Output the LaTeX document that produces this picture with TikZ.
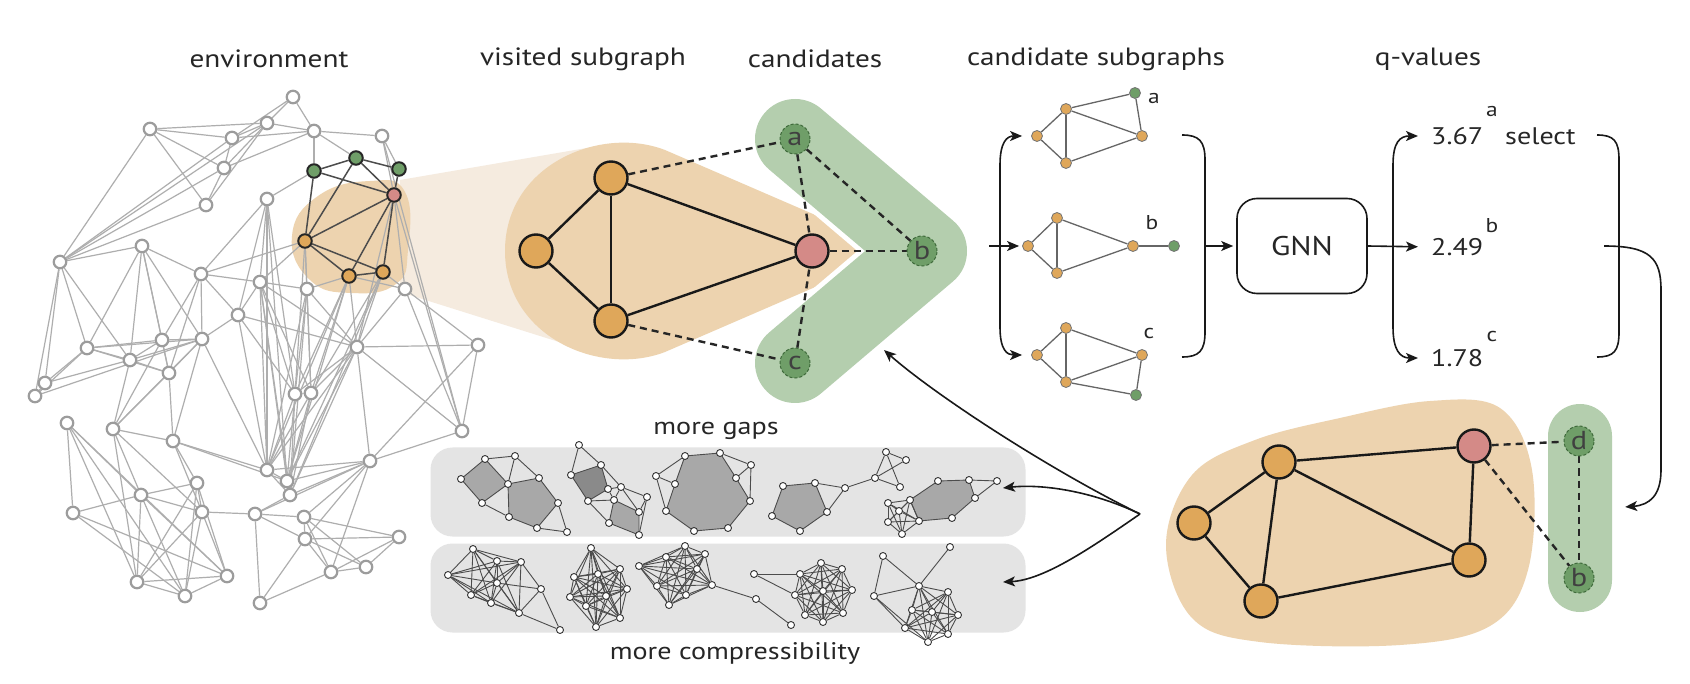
\documentclass[tikz,border=0pt]{standalone}
\usepackage{fontspec}
\setmainfont{PT Sans}[FakeStretch=1.17]
\usetikzlibrary{arrows.meta,calc}
\definecolor{orangeN}{HTML}{DFA75A}
\definecolor{pinkN}{HTML}{D48A87}
\definecolor{greenN}{HTML}{6F9E68}
\definecolor{greenD}{HTML}{3F6A3B}
\definecolor{beige}{HTML}{EDD3AF}
\definecolor{beigeL}{HTML}{F5EBDF}
\definecolor{greenB}{HTML}{B4CEAE}
\definecolor{boxG}{HTML}{E4E4E4}
\definecolor{polyG}{HTML}{A8A8A8}
\definecolor{polyD}{HTML}{8A8A8A}
\definecolor{envG}{HTML}{9C9C9C}
\definecolor{envL}{HTML}{AEAEAE}
\pgfdeclarelayer{back}
\pgfdeclarelayer{edges}
\pgfsetlayers{back,edges,main}
\newcommand{\ttlfont}{\fontsize{25}{30}\selectfont}
\newcommand{\qfont}{\fontsize{24}{28}\selectfont}
\newcommand{\supfont}{\fontsize{20}{24}\selectfont}
\begin{document}
\begin{tikzpicture}[x=1pt,y=-1pt,
  envn/.style={circle,draw=envG,fill=white,line width=2.2pt,minimum size=12.5pt,inner sep=0pt},
  envhl/.style={circle,draw=black!85,line width=2pt,minimum size=13.5pt,inner sep=0pt},
  envedge/.style={draw=envL,line width=1.2pt},
  hledge/.style={draw=black!70,line width=1.5pt},
  bign/.style={circle,draw=black!90,line width=2.4pt,minimum size=33pt,inner sep=0pt},
  cand/.style={circle,draw=greenD,dashed,dash pattern=on 3pt off 2pt,fill=greenN,line width=1pt,minimum size=30pt,inner sep=0pt,font=\fontsize{26}{26}\selectfont,text=black!75},
  solidE/.style={draw=black!90,line width=2.4pt},
  dashE/.style={draw=black!85,line width=2.4pt,dash pattern=on 7pt off 5pt},
  sn/.style={circle,draw=black!55,line width=0.8pt,minimum size=11pt,inner sep=0pt},
  se/.style={draw=black!60,line width=1.3pt},
  mn/.style={circle,draw=black!80,fill=white,line width=0.9pt,minimum size=7pt,inner sep=0pt},
  me/.style={draw=black!70,line width=0.9pt},
  arr/.style={-{Stealth[length=12pt,width=10pt,inset=3pt]},line width=1.6pt,draw=black!90},
  brk/.style={line width=1.6pt,draw=black!90},
  graybox/.style={fill=boxG,rounded corners=22pt,minimum width=595pt,minimum height=89pt,inner sep=0pt},
  ttl/.style={font=\ttlfont,text=black!85},
  qv/.style={font=\qfont,anchor=west,inner sep=0pt,text=black!85},
  sup/.style={font=\supfont,inner sep=0pt,text=black!85}
]
\useasboundingbox (0,0) rectangle (1690,684);

% titles
\node[ttl] (t1) at (269,59) {environment};
\node[ttl] (t2) at (583,59) {visited subgraph};
\node[ttl] (t3) at (815,59) {candidates};
\node[ttl] (t4) at (1096,59) {candidate subgraphs};
\node[ttl] (t5) at (1428,59) {q-values};

% ---------- backgrounds ----------
\begin{pgfonlayer}{back}
\fill[white] (0,0) rectangle (1690,684);
\fill[beigeL] (400,180) -- (610,144) -- (610,358) -- (400,292) -- cycle;
\fill[beige] plot[smooth cycle,tension=0.8] coordinates {(292,236) (318,196) (370,181) (405,192) (408,250) (396,284) (352,293) (310,280)};
\fill[beige] (868,251) .. controls (868,240) and (858,233) .. (843,227) -- (665,150) .. controls (600,125) and (505,165) .. (505,251) .. controls (505,337) and (600,377) .. (665,352) -- (843,275) .. controls (858,269) and (868,262) .. (868,251) -- cycle;
\draw[white,line width=90pt,line cap=round,line join=round] (795,139) -- (927,251) -- (795,363);
\draw[greenB,line width=80pt,line cap=round,line join=round] (795,139) -- (927,251) -- (795,363);
\fill[beige] plot[smooth cycle,tension=0.6] coordinates {(1166,545) (1192,475) (1255,440) (1340,418) (1430,401) (1500,408) (1532,470) (1528,570) (1490,626) (1400,645) (1260,642) (1192,618)};
\node[fill=greenB,rounded corners=32pt,minimum width=64pt,minimum height=208pt,inner sep=0pt] (gbar) at (1580,508) {};
\node[graybox] (boxA) at (728,492) {};
\node[graybox] (boxB) at (728,588) {};
\end{pgfonlayer}

% ---------- environment ----------
\foreach \n/\x/\y in {1/293/97,2/150/129,3/267/123,4/232/138,5/314/131,6/382/136,7/224/168,8/206/205,9/267/199,10/60/262,
 11/142/246,12/201/274,13/260/282,14/307/289,15/405/289,16/238/315,17/357/347,18/478/345,19/87/348,20/162/340,
 21/130/360,22/202/339,23/169/373,24/45/383,25/35/396,26/295/394,27/311/393,28/67/423,29/113/429,30/173/441,
 31/462/431,32/267/470,33/370/461,34/287/481,35/290/495,36/197/483,37/141/495,38/202/512,39/73/513,40/255/514,
 41/304/517,42/305/539,43/399/537,44/366/567,45/331/572,46/227/576,47/137/582,48/185/596,49/260/603}
  \node[envn] (e\n) at (\x,\y) {};
\foreach \n/\x/\y/\c in {50/314/171/greenN,51/356/158/greenN,52/399/169/greenN,53/394/195/pinkN,54/305/241/orangeN,55/349/276/orangeN,56/383/272/orangeN}
  \node[envhl,fill=\c] (e\n) at (\x,\y) {};
\begin{pgfonlayer}{edges}
\foreach \a/\b in {1/3,1/4,1/5,2/3,2/4,2/7,2/8,2/10,3/4,3/5,3/7,3/10,4/7,4/10,7/8,7/10,8/10,5/7,4/5,5/6,5/50,5/51,6/52,6/53,8/3,
 9/50,9/13,9/16,9/32,9/34,9/26,9/12,
 10/11,11/12,11/20,11/22,11/21,11/19,11/23,10/19,10/24,10/25,10/21,
 12/13,12/16,12/22,12/20,12/23,12/54,
 13/14,13/16,13/54,13/32,13/34,13/26,13/27,13/17,13/35,
 14/54,14/55,14/26,14/27,14/17,14/35,14/32,
 15/56,15/17,15/53,15/31,15/55,
 16/22,16/32,16/17,16/26,
 17/18,17/31,17/33,17/26,17/27,17/34,17/35,17/32,17/55,17/56,
 18/31,18/15,18/33,
 19/20,19/21,19/22,19/24,19/25,19/23,
 20/21,20/22,20/23,20/29,21/22,21/23,21/29,22/23,22/29,22/30,22/32,23/29,23/30,
 24/25,25/22,24/21,
 26/27,26/32,26/34,26/35,27/34,27/35,27/32,26/55,27/56,27/55,26/54,27/54,
 28/37,28/39,28/47,28/48,28/46,
 29/30,29/37,29/38,29/47,
 30/32,30/34,30/36,30/38,
 31/33,31/53,31/6,
 32/34,32/35,32/33,33/34,33/35,33/41,33/42,33/45,33/40,
 36/37,36/38,36/46,36/47,36/48,
 37/38,37/39,37/46,37/48,37/47,
 38/40,38/46,38/47,38/48,39/46,39/48,
 40/41,40/49,40/42,40/35,
 41/42,41/43,41/44,41/45,42/44,42/45,42/49,43/45,43/44,44/45,45/49,42/43,
 46/47,46/48,47/48,
 55/32,55/34,56/35,56/34,53/17}
  \draw[envedge] (e\a) -- (e\b);
\foreach \a/\b in {50/51,51/52,50/53,51/53,52/53,50/54,51/54,54/53,54/55,54/56,55/56,53/55,53/56}
  \draw[hledge] (e\a) -- (e\b);
\end{pgfonlayer}

% ---------- visited subgraph + candidates ----------
\node[bign,fill=orangeN] (v1) at (611,178) {};
\node[bign,fill=orangeN] (v2) at (536,251) {};
\node[bign,fill=orangeN] (v3) at (611,321) {};
\node[bign,fill=pinkN] (vp) at (812,251) {};
\node[cand] (ca) at (795,139) {a};
\node[cand] (cb) at (922,251) {b};
\node[cand] (cc) at (795,363) {c};
\begin{pgfonlayer}{edges}
\foreach \a/\b in {v1/v2,v2/v3,v1/v3,v1/vp,v3/vp} \draw[solidE] (\a) -- (\b);
\foreach \a/\b in {v1/ca,v3/cc,vp/cb,ca/cb,ca/vp,cc/vp} \draw[dashE] (\a) -- (\b);
\end{pgfonlayer}

% ---------- candidate subgraphs ----------
\foreach \n/\x/\y/\c in {a1/1037/136/orangeN,a2/1066/109/orangeN,a3/1066/163/orangeN,a4/1142/136/orangeN,a5/1135/93/greenN,
 b1/1028/246/orangeN,b2/1057/218/orangeN,b3/1057/273/orangeN,b4/1133/246/orangeN,b5/1174/246/greenN,
 c1/1037/355/orangeN,c2/1066/328/orangeN,c3/1066/382/orangeN,c4/1142/355/orangeN,c5/1136/395/greenN}
  \node[sn,fill=\c] (s\n) at (\x,\y) {};
\begin{pgfonlayer}{edges}
\foreach \a/\b in {a1/a2,a1/a3,a2/a3,a2/a4,a3/a4,a2/a5,a5/a4,
 b1/b2,b1/b3,b2/b3,b2/b4,b3/b4,b4/b5,
 c1/c2,c1/c3,c2/c3,c2/c4,c3/c4,c3/c5,c4/c5}
  \draw[se] (s\a) -- (s\b);
\end{pgfonlayer}
\node[sup] (la) at (1154,99) {a};
\node[sup] (lb) at (1152,223) {b};
\node[sup] (lc) at (1149,334) {c};

% brackets and arrows (candidate subgraphs)
\coordinate (lbm) at (1000,246);
\coordinate (lbin) at (989,246);
\draw[arr,shorten >=9pt] (lbm) -- (1000,165) .. controls (1000,142) and (1007,136) .. (sa1.west);
\draw[arr,shorten >=9pt] (lbm) -- (1000,327) .. controls (1000,350) and (1007,355) .. (sc1.west);
\draw[arr,shorten >=3pt] (lbin) -- (sb1);
\draw[brk] (1182,135) .. controls (1199,135) and (1205,141) .. (1205,160) -- (1205,332) .. controls (1205,351) and (1199,357) .. (1182,357);
\coordinate (rbm) at (1205,246);

\node[draw=black!90,line width=1.6pt,rounded corners=20pt,minimum width=130pt,minimum height=95pt,font=\fontsize{27}{30}\selectfont,text=black!85] (gnn) at (1302,246) {GNN};
\draw[arr,shorten >=3pt] (rbm) -- (gnn.west);

% q-values
\node[qv] (q1) at (1431,136) {3.67};
\node[qv] (q2) at (1431,247) {2.49};
\node[qv] (q3) at (1431,358) {1.78};
\node[sup] (qa) at (1492,112) {a};
\node[sup] (qb) at (1492,226) {b};
\node[sup] (qc) at (1492,337) {c};
\node[qv] (sel) at (1505,136) {select};
\coordinate (lq) at (1393,246);
\draw[arr,shorten >=13pt] (gnn.east) -- (q2.west);
\draw[arr,shorten >=13pt] (lq) -- (1393,165) .. controls (1393,142) and (1400,136) .. (q1.west);
\draw[arr,shorten >=13pt] (lq) -- (1393,327) .. controls (1393,350) and (1400,358) .. (q3.west);
\draw[brk] (1597,135) .. controls (1614,135) and (1619,141) .. (1619,160) -- (1619,332) .. controls (1619,351) and (1614,357) .. (1597,357);
\coordinate (qout) at (1604,246);
\draw[arr,shorten >=13pt] (qout) .. controls (1650,246) and (1661,258) .. (1661,290) -- (1661,470) .. controls (1661,495) and (1650,505) .. (gbar.east);

% ---------- new visited subgraph (bottom right) ----------
\node[bign,fill=orangeN] (r1) at (1279,462) {};
\node[bign,fill=orangeN] (r2) at (1194,523) {};
\node[bign,fill=orangeN] (r3) at (1261,601) {};
\node[bign,fill=pinkN] (rp) at (1474,446) {};
\node[bign,fill=orangeN] (r4) at (1469,560) {};
\node[cand] (rd) at (1579,441) {d};
\node[cand] (rb) at (1579,578) {b};
\begin{pgfonlayer}{edges}
\foreach \a/\b in {r1/r2,r2/r3,r1/r3,r1/rp,r1/r4,rp/r4,r3/r4} \draw[solidE] (\a) -- (\b);
\foreach \a/\b in {rp/rd,rp/rb,rd/rb} \draw[dashE] (\a) -- (\b);
\end{pgfonlayer}

% fan arrows
\coordinate (F) at (1140,514);
\coordinate (chevin) at (884,350);
\coordinate (boxAin) at (1003,488);
\coordinate (boxBin) at (1003,582);
\draw[arr] (F) .. controls (1050,470) and (935,395) .. (chevin);
\draw[arr] (F) .. controls (1090,490) and (1040,484) .. (boxAin);
\draw[arr] (F) .. controls (1095,545) and (1045,580) .. (boxBin);

\node[font=\fontsize{24}{28}\selectfont,text=black!85] (mg) at (716,431) {more gaps};
\node[font=\fontsize{24}{28}\selectfont,text=black!85] (mc) at (735,653) {more compressibility};

% ---------- mini graphs: more gaps ----------
\foreach \n/\x/\y in {a1/461/479,a2/485/459,a3/515/456,a4/508/484,a5/482/503,a6/539/478,a7/558/503,a8/537/528,a9/509/517,a10/567/532,
 b1/579/445,b2/571/475,b3/601/465,b4/608/489,b5/588/501,b6/621/487,b7/647/497,b8/614/500,b9/609/523,b10/639/512,b11/639/535,
 c1/685/456,c2/720/453,c3/736/478,c4/750/501,c5/728/528,c6/694/531,c7/666/511,c8/675/484,c9/656/476,c10/751/465,
 d1/783/486,d2/815/483,d3/827/512,d4/800/531,d5/772/516,d6/845/488,d7/875/478,d8/886/452,d9/906/460,d10/900/487,
 f1/910/500,f2/938/481,f3/969/480,f4/975/498,f5/952/518,f6/919/521,f7/888/503,f8/888/522,f9/902/534,f10/899/511,f11/997/481}
  \node[mn] (m\n) at (\x,\y) {};
\begin{pgfonlayer}{back}
\filldraw[fill=polyG,draw=black!70,line width=0.9pt] (ma1.center) -- (ma2.center) -- (ma4.center) -- (ma5.center) -- cycle;
\filldraw[fill=polyG,draw=black!70,line width=0.9pt] (ma4.center) -- (ma6.center) -- (ma7.center) -- (ma8.center) -- (ma9.center) -- cycle;
\filldraw[fill=polyD,draw=black!70,line width=0.9pt] (mb2.center) -- (mb3.center) -- (mb4.center) -- (mb5.center) -- cycle;
\filldraw[fill=polyG,draw=black!70,line width=0.9pt] (mb8.center) -- (mb10.center) -- (mb11.center) -- (mb9.center) -- cycle;
\filldraw[fill=polyG,draw=black!70,line width=0.9pt] (mc1.center) -- (mc2.center) -- (mc3.center) -- (mc4.center) -- (mc5.center) -- (mc6.center) -- (mc7.center) -- (mc8.center) -- cycle;
\filldraw[fill=polyG,draw=black!70,line width=0.9pt] (md1.center) -- (md2.center) -- (md3.center) -- (md4.center) -- (md5.center) -- cycle;
\filldraw[fill=polyG,draw=black!70,line width=0.9pt] (mf1.center) -- (mf2.center) -- (mf3.center) -- (mf4.center) -- (mf5.center) -- (mf6.center) -- cycle;
\end{pgfonlayer}
\begin{pgfonlayer}{edges}
\foreach \a/\b in {a2/a3,a3/a4,a3/a6,a5/a9,a7/a10,a8/a10,
 b1/b2,b1/b3,b3/b6,b4/b6,b6/b7,b5/b8,b8/b6,b6/b10,b7/b10,b4/b8,b5/b9,b7/b11,
 c9/c1,c9/c8,c9/c7,c10/c2,c10/c3,c10/c4,
 d2/d6,d3/d6,d6/d7,d7/d8,d7/d9,d7/d10,d8/d9,d8/d10,
 f3/f11,f4/f11}
  \draw[me] (m\a) -- (m\b);
\foreach \a/\b in {f1/f6,f1/f7,f1/f8,f1/f9,f1/f10,f6/f7,f6/f8,f6/f9,f6/f10,f7/f8,f7/f9,f7/f10,f8/f9,f8/f10,f9/f10}
  \draw[me] (m\a) -- (m\b);
\end{pgfonlayer}

% ---------- mini graphs: more compressibility ----------
\foreach \n/\x/\y in {h1/473/549,h2/448/575,h3/497/561,h4/521/562,h5/497/583,h6/471/595,h7/491/603,h8/519/613,h9/541/589,h10/560/630,
 i1/591/548,i2/620/569,i3/574/577,i4/627/589,i5/570/597,i6/620/618,i7/596/627,i8/598/574,i9/606/596,i10/586/606,
 j1/685/546,j2/666/557,j3/697/569,j4/639/566,j5/657/586,j6/669/605,j7/686/595,j8/712/585,j9/705/554,j10/756/599,j11/791/625,
 k1/821/563,k2/842/569,k3/852/590,k4/843/613,k5/823/622,k6/805/615,k7/795/595,k8/800/574,k9/823/591,k0/754/574,
 l1/883/556,l2/950/547,l3/874/596,l4/919/586,l5/948/592,l6/958/615,l7/948/634,l8/928/642,l9/905/628,l10/912/610,l11/932/612}
  \node[mn] (m\n) at (\x,\y) {};
\begin{pgfonlayer}{edges}
\foreach \i in {1,...,8}{\foreach \j in {1,...,8}{\ifnum\i<\j \draw[me] (mh\i) -- (mh\j);\fi}}
\foreach \a/\b in {h4/h9,h8/h9,h5/h9,h9/h10,h8/h10} \draw[me] (m\a) -- (m\b);
\foreach \i in {1,...,10}{\foreach \j in {1,...,10}{\ifnum\i<\j \draw[me] (mi\i) -- (mi\j);\fi}}
\foreach \i in {1,...,9}{\foreach \j in {1,...,9}{\ifnum\i<\j \draw[me] (mj\i) -- (mj\j);\fi}}
\foreach \a/\b in {j8/j10,j10/j11} \draw[me] (m\a) -- (m\b);
\foreach \i in {1,...,9}{\foreach \j in {1,...,9}{\ifnum\i<\j \draw[me] (mk\i) -- (mk\j);\fi}}
\foreach \a/\b in {k0/k8,k0/k7} \draw[me] (m\a) -- (m\b);
\foreach \i in {4,...,11}{\foreach \j in {4,...,11}{\ifnum\i<\j \draw[me] (ml\i) -- (ml\j);\fi}}
\foreach \a/\b in {l1/l4,l1/l3,l2/l4,l3/l4,l3/l9,l3/l8} \draw[me] (m\a) -- (m\b);
\end{pgfonlayer}
\end{tikzpicture}
\end{document}
